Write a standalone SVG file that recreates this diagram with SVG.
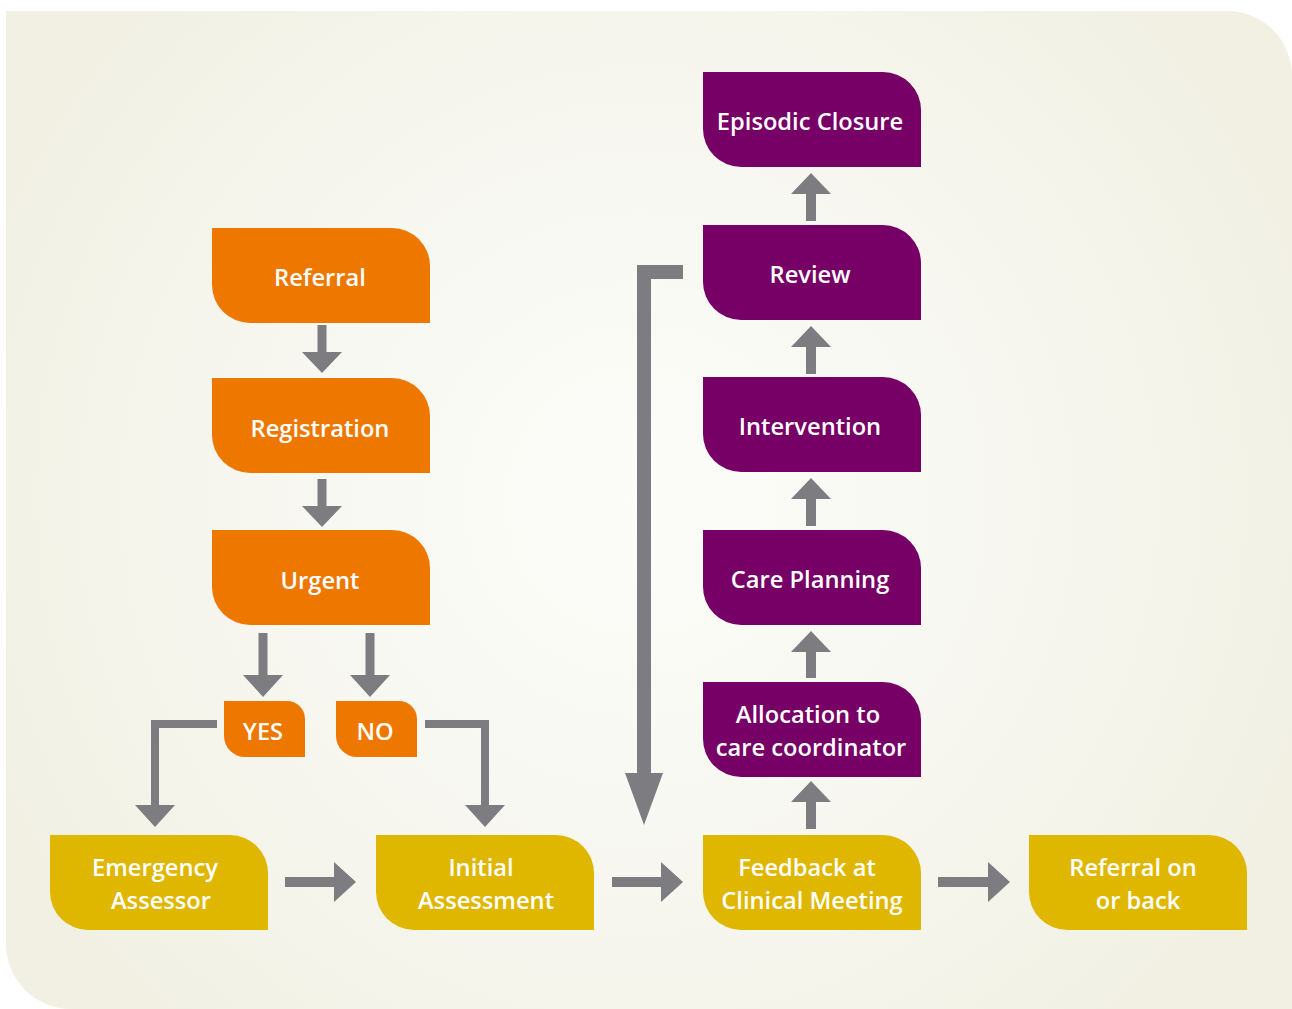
<svg xmlns="http://www.w3.org/2000/svg" xmlns:xlink="http://www.w3.org/1999/xlink" width="1292" height="1009" viewBox="0 0 1292 1009">
<defs>
<radialGradient id="bg" cx="640" cy="500" r="720" gradientUnits="userSpaceOnUse">
<stop offset="0" stop-color="#fcfcf9"/>
<stop offset="0.45" stop-color="#f8f8f2"/>
<stop offset="1" stop-color="#f1f0e3"/>
</radialGradient>
<path id="big" d="M0,0 H180 A38 38 0 0 1 218,38 V95 H38 A38 38 0 0 1 0,57 Z"/>
<path id="small" d="M0,0 H63 A18 18 0 0 1 81,18 V56 H21 A21 21 0 0 1 0,35 Z"/>
<style>
.o{fill:#ee7700}.y{fill:#dfb700}.p{fill:#760066}
.t{font-family:"Open Sans","Noto Sans",sans-serif;font-weight:600;font-size:23.7px;fill:#ffffff;text-anchor:middle}
.a{fill:#7d7c81}
</style>
</defs>
<path d="M6,11 H1227 A65 65 0 0 1 1292,76 V1009 H71 A65 65 0 0 1 6,944 Z" fill="url(#bg)"/>
<g id="connectors" class="a">
<path d="M317.5,325 H326.5 V352 H342 L322,373 L302,352 H317.5 Z"/>
<path d="M317.5,479 H326.5 V506 H342 L322,527 L302,506 H317.5 Z"/>
<path d="M258.5,633 H267.5 V675 H283 L263,697 L243,675 H258.5 Z"/>
<path d="M365.5,633 H374.5 V675 H390 L370,697 L350,675 H365.5 Z"/>
<path d="M425,720 H489 V805 H505 L485,827 L465,805 H481 V728 H425 Z"/>
<path d="M217,720 H151 V805 H135 L155,827 L175,805 H159 V728 H217 Z"/>
<path d="M683,265 H637 V773 H625 L644,825 L663,773 H651 V279 H683 Z"/>
<path d="M285,877 H334 V862 L356,882 L334,902 V887 H285 Z"/>
<path d="M612,877 H661 V862 L683,882 L661,902 V887 H612 Z"/>
<path d="M938,877 H988 V862 L1010,882 L988,902 V887 H938 Z"/>
<path d="M806,829 V802 H791 L811,781 L831,802 H816 V829 Z"/>
<path d="M806,678 V652 H791 L811,631 L831,652 H816 V678 Z"/>
<path d="M806,526 V499 H791 L811,478 L831,499 H816 V526 Z"/>
<path d="M806,374 V347 H791 L811,326 L831,347 H816 V374 Z"/>
<path d="M806,221 V194 H791 L811,173 L831,194 H816 V221 Z"/>
</g>
<g id="referral"><use href="#big" x="212" y="228" class="o"/><text class="t" x="320" y="286">Referral</text></g>
<g id="registration"><use href="#big" x="212" y="378" class="o"/><text class="t" x="320" y="437">Registration</text></g>
<g id="urgent"><use href="#big" x="212" y="530" class="o"/><text class="t" x="320" y="589">Urgent</text></g>
<g id="yes"><use href="#small" x="224" y="701" class="o"/><text class="t" x="263" y="740">YES</text></g>
<g id="no"><use href="#small" x="336" y="701" class="o"/><text class="t" x="375" y="740">NO</text></g>
<g id="emergency-assessor"><use href="#big" x="50" y="835" class="y"/><text class="t" x="155" y="876">Emergency</text><text class="t" x="161" y="909">Assessor</text></g>
<g id="initial-assessment"><use href="#big" x="376" y="835" class="y"/><text class="t" x="481" y="876">Initial</text><text class="t" x="486" y="909">Assessment</text></g>
<g id="feedback"><use href="#big" x="703" y="835" class="y"/><text class="t" x="807" y="876">Feedback at</text><text class="t" x="812" y="909">Clinical Meeting</text></g>
<g id="referral-on"><use href="#big" x="1029" y="835" class="y"/><text class="t" x="1133" y="876">Referral on</text><text class="t" x="1138" y="909">or back</text></g>
<g id="allocation"><use href="#big" x="703" y="682" class="p"/><text class="t" x="808" y="723">Allocation to</text><text class="t" x="811" y="756">care coordinator</text></g>
<g id="care-planning"><use href="#big" x="703" y="530" class="p"/><text class="t" x="810" y="588">Care Planning</text></g>
<g id="intervention"><use href="#big" x="703" y="377" class="p"/><text class="t" x="810" y="435">Intervention</text></g>
<g id="review"><use href="#big" x="703" y="225" class="p"/><text class="t" x="810" y="283">Review</text></g>
<g id="episodic-closure"><use href="#big" x="703" y="72" class="p"/><text class="t" x="810" y="130">Episodic Closure</text></g>
</svg>
